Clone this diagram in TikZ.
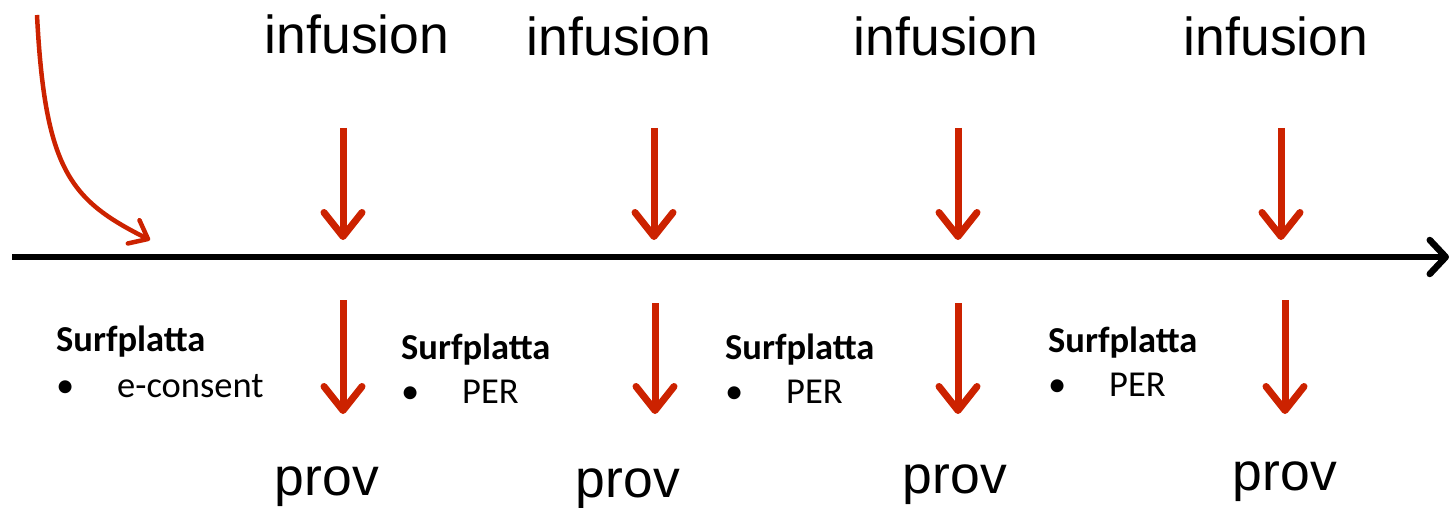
\documentclass[tikz,border=0pt]{standalone}
\usepackage{fontspec}
\newfontfamily\arialf{Liberation Sans}
\newfontfamily\calf{Carlito}
\usetikzlibrary{arrows.meta}
\definecolor{arrred}{RGB}{204,34,0}
\begin{document}
\begin{tikzpicture}[x=1pt,y=-1pt,
  big/.style={font=\arialf\fontsize{53.5}{60}\selectfont, inner sep=0pt},
  info/.style={font=\calf\fontsize{36.5}{44}\selectfont, inner sep=0pt, anchor=base west},
  redarr/.style={draw=arrred, line width=7pt, -{Straight Barb[length=24pt,width=38pt,round]}},
  timeline/.style={draw=black, line width=6.5pt, -{Straight Barb[length=16pt,width=34pt,round]}}]
\useasboundingbox (0,0) rectangle (1451,508);
% timeline
\coordinate (t0) at (12,257);
\coordinate (t1) at (1449,257);
\draw[timeline] (t0) -- (t1);
% curved arrow
\coordinate (c0) at (37,15);
\coordinate (c1) at (150,240);
\draw[draw=arrred, line width=4.5pt, -{Straight Barb[length=16pt,width=26pt,round]}] (c0) .. controls (45,170) and (70,200) .. (c1);
% infusion labels
\node[big] (i1) at (357,34) {infusion};
\node[big] (i2) at (619,36) {infusion};
\node[big] (i3) at (946,36) {infusion};
\node[big] (i4) at (1276,36) {infusion};
% prov labels
\node[big] (p1) at (327,487) {prov};
\node[big] (p2) at (628,489) {prov};
\node[big] (p3) at (955,485) {prov};
\node[big] (p4) at (1285,482) {prov};
% top arrows
\foreach \n/\x in {1/343,2/654,3/958,4/1281}{
  \coordinate (ua\n) at (\x,128);
  \coordinate (ub\n) at (\x,240);
  \draw[redarr] (ua\n) -- (ub\n);
}
% bottom arrows
\foreach \n/\x/\y in {1/343/300,2/655/303,3/958/303,4/1285/300}{
  \coordinate (da\n) at (\x,\y);
  \coordinate (db\n) at (\x,414);
  \draw[redarr] (da\n) -- (db\n);
}
% info blocks
\node[info] (s1) at (56,351) {\textbf{Surfplatta}};
\node[info] (b1) at (56,397) {\makebox[61pt][l]{•}e-consent};
\node[info] (s2) at (401,359) {\textbf{Surfplatta}};
\node[info] (b2) at (401,403) {\makebox[61pt][l]{•}PER};
\node[info] (s3) at (725,359) {\textbf{Surfplatta}};
\node[info] (b3) at (725,403) {\makebox[61pt][l]{•}PER};
\node[info] (s4) at (1048,352) {\textbf{Surfplatta}};
\node[info] (b4) at (1048,396) {\makebox[61pt][l]{•}PER};
\end{tikzpicture}
\end{document}
